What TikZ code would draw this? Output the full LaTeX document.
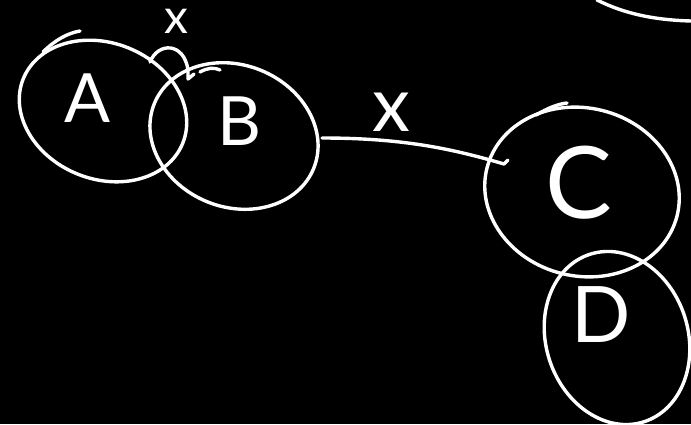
\documentclass[tikz,border=0pt]{standalone}
\usepackage{fontspec}
\setmainfont{Lato}
\usetikzlibrary{shapes.geometric}
\tikzset{
  ink/.style={draw=white, line width=3.4pt, line cap=round, line join=round},
  blob/.style={ellipse, ink, inner sep=0pt, fill=none},
  letter/.style={text=white, inner sep=0pt, anchor=center},
}
\begin{document}
\begin{tikzpicture}[x=1pt,y=-1pt]
\fill[black] (0,0) rectangle (691,424);
\useasboundingbox (0,0) rectangle (691,424);
% ellipses
\node[blob, minimum width=172pt, minimum height=136pt, rotate=-22] (A) at (103,111) {};
\node[blob, minimum width=172pt, minimum height=142pt, rotate=-22] (B) at (234,136) {};
\node[blob, minimum width=196pt, minimum height=168pt, rotate=-14] (C) at (582,192) {};
\node[blob, minimum width=142pt, minimum height=176pt, rotate=18] (D) at (617,338) {};
% stroke overshoots
\draw[ink] (43,52) .. controls (55,40) and (68,33) .. (80,31);
\draw[ink] (200,72) .. controls (207,68) and (214,67) .. (220,70);
\draw[ink] (536,115) .. controls (548,108) and (558,104) .. (567,103);
% big ellipse at the top right
\draw[ink] (597,0) .. controls (625,14) and (655,20) .. (691,21);
% letters
\node[letter, font=\fontsize{68}{68}\selectfont] (la) at (88,98) {A};
\node[letter, font=\fontsize{68}{68}\selectfont] (lb) at (239,121) {B};
\node[letter, font=\fontsize{100}{100}\selectfont] (lc) at (579,183) {C};
\node[letter, font=\fontsize{78}{78}\selectfont] (ld) at (601,315) {D};
% loop between A and B
\coordinate (ab0) at (150,62);
\coordinate (ab1) at (188,79);
\draw[ink] (ab0) .. controls (158,42) and (184,42) .. (188,70) -- (ab1) -- (194,74);
\node[letter, font=\fontsize{48}{48}\selectfont] (x1) at (176,21) {x};
% connector B to C
\coordinate (bc0) at (322,138);
\coordinate (bc1) at (504,164);
\draw[ink] (bc0) .. controls (400,138) and (450,148) .. (bc1) -- (508,160);
\node[letter, font=\fontsize{76}{76}\selectfont] (x2) at (391,112) {x};
\end{tikzpicture}
\end{document}
